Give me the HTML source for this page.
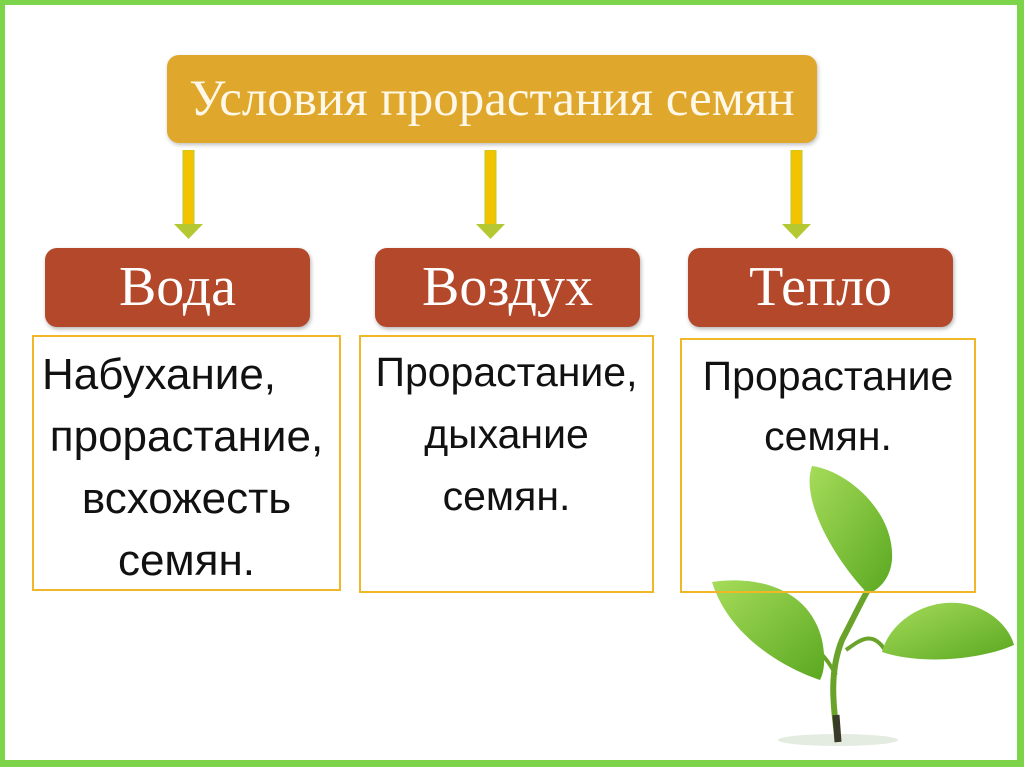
<!DOCTYPE html>
<html><head><meta charset="utf-8"><style>
body{margin:0;width:1024px;height:767px;background:#fff;position:relative;overflow:hidden;font-family:"Liberation Sans",sans-serif}
.frame{position:absolute;left:0;top:0;width:1024px;height:767px;box-sizing:border-box;border:5px solid #7dd34a;border-right-width:7px;border-bottom-width:7px}
.hdr{position:absolute;left:167px;top:55px;width:650px;height:88px;background:#dfa82c;border-radius:12px;color:#fff8e8;font-family:"Liberation Serif",serif;font-size:51px;line-height:88px;text-align:center;box-shadow:1px 2px 4px rgba(0,0,0,.25)}
.red{position:absolute;top:248px;width:265px;height:79px;background:#b3482a;border-radius:12px;color:#fff;font-family:"Liberation Serif",serif;font-size:56px;line-height:79px;text-align:center;box-shadow:1px 2px 4px rgba(0,0,0,.3)}
.box{position:absolute;border:2px solid #f0b828;box-sizing:border-box;text-align:center;font-size:41px;color:#111;line-height:62px;white-space:nowrap}
.arr{position:absolute;top:150px}
</style></head><body>
<div class="frame"></div>
<div class="hdr">Условия прорастания семян</div>
<svg class="arr" style="left:172px" width="34" height="90"><rect x="11" y="0" width="11" height="76" fill="#f2c400" stroke="#b8c830" stroke-width="1"/><polygon points="2,74 31,74 16.5,89" fill="#b5c832"/></svg>
<svg class="arr" style="left:474px" width="34" height="90"><rect x="11" y="0" width="11" height="76" fill="#f2c400" stroke="#b8c830" stroke-width="1"/><polygon points="2,74 31,74 16.5,89" fill="#b5c832"/></svg>
<svg class="arr" style="left:780px" width="34" height="90"><rect x="11" y="0" width="11" height="76" fill="#f2c400" stroke="#b8c830" stroke-width="1"/><polygon points="2,74 31,74 16.5,89" fill="#b5c832"/></svg>
<div class="red" style="left:45px">Вода</div>
<div class="red" style="left:375px">Воздух</div>
<div class="red" style="left:688px">Тепло</div>
<div class="box" style="left:32px;top:335px;width:309px;height:256px;padding-top:7px;font-size:44px"><div style="text-align:left;padding-left:8px">Набухание,</div><div>прорастание,</div><div>всхожесть</div><div>семян.</div></div>
<svg style="position:absolute;left:0;top:0" width="1024" height="767">
<defs>
<linearGradient id="g" x1="0" y1="0" x2="1" y2="1"><stop offset="0" stop-color="#a6dc5a"/><stop offset="1" stop-color="#5aa820"/></linearGradient>
</defs>
<ellipse cx="838" cy="740" rx="60" ry="6" fill="#e4ebe0"/>
<path d="M838,742 C832,700 830,670 842,640 C855,615 862,600 868,590" stroke="#6aa32a" stroke-width="6" fill="none"/>
<path d="M838,742 L836,715" stroke="#3a3a2a" stroke-width="7"/>
<path d="M836,675 C828,660 820,652 815,648" stroke="#6aa32a" stroke-width="4" fill="none"/>
<path d="M846,650 C860,640 872,630 885,650" stroke="#6aa32a" stroke-width="4" fill="none"/>
<path d="M868,594 C835,560 800,500 812,466 C845,470 895,510 892,560 C890,580 878,590 868,594Z" fill="url(#g)"/>
<path d="M820,680 C790,670 730,640 712,582 C760,575 810,590 822,640 C826,660 824,672 820,680Z" fill="url(#g)"/>
<path d="M882,652 C890,620 930,595 970,605 C995,612 1010,630 1014,645 C980,660 920,665 882,652Z" fill="url(#g)"/>
</svg>
<div class="box" style="left:359px;top:335px;width:295px;height:258px;padding-top:4px"><div>Прорастание,</div><div>дыхание</div><div>семян.</div></div>
<div class="box" style="left:680px;top:338px;width:296px;height:255px;padding-top:6px;line-height:60px;background:transparent"><div>Прорастание</div><div>семян.</div></div>
</body></html>
